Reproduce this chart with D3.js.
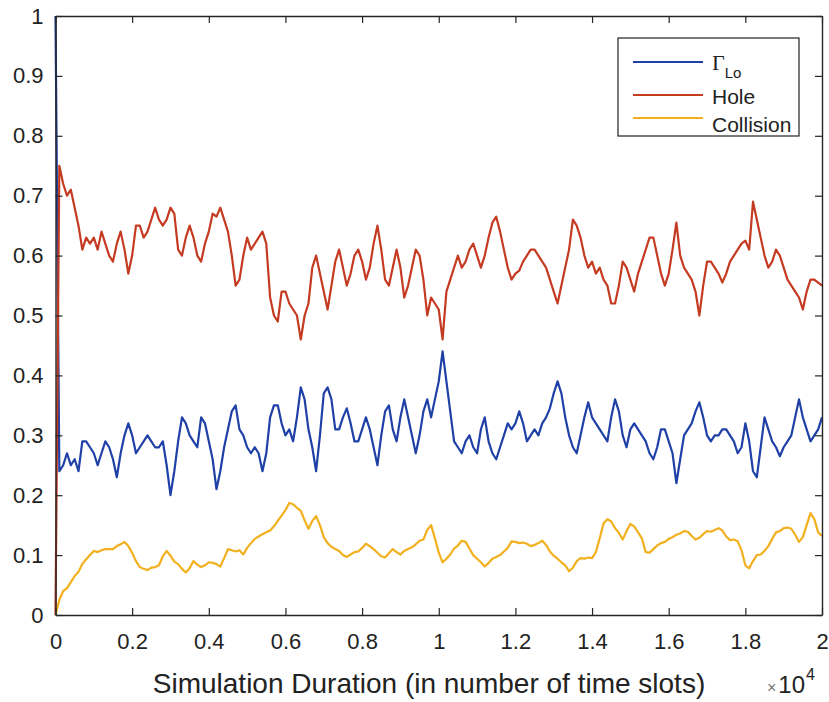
<!DOCTYPE html>
<html><head><meta charset="utf-8">
<script src="https://cdn.jsdelivr.net/npm/d3@7"></script>
<style>body{margin:0;background:#fff}</style>
</head><body>
<svg id="chart" width="829" height="702"></svg>
<script>
// time slot spacing between consecutive samples
const slotStep = 100;

const gammaLo = [
1.0,0.24,0.25,0.27,0.25,0.26,0.24,0.29,0.29,0.28,
0.27,0.25,0.27,0.29,0.28,0.26,0.23,0.27,0.30,0.32,
0.30,0.27,0.28,0.29,0.30,0.29,0.28,0.28,0.29,0.25,
0.20,0.24,0.29,0.33,0.32,0.30,0.29,0.28,0.33,0.32,
0.29,0.26,0.21,0.24,0.28,0.31,0.34,0.35,0.31,0.30,
0.28,0.27,0.28,0.27,0.24,0.27,0.33,0.35,0.35,0.32,
0.30,0.31,0.29,0.33,0.38,0.36,0.31,0.28,0.24,0.30,
0.37,0.38,0.36,0.31,0.31,0.33,0.345,0.32,0.29,0.29,
0.31,0.33,0.31,0.28,0.25,0.30,0.34,0.35,0.31,0.29,
0.33,0.36,0.33,0.30,0.27,0.30,0.34,0.36,0.33,0.36,
0.39,0.44,0.39,0.34,0.29,0.28,0.27,0.29,0.30,0.28,
0.27,0.31,0.33,0.29,0.27,0.26,0.28,0.30,0.32,0.31,
0.32,0.34,0.32,0.29,0.30,0.31,0.30,0.32,0.33,0.345,
0.37,0.39,0.37,0.33,0.30,0.28,0.27,0.30,0.33,0.355,
0.33,0.32,0.31,0.30,0.29,0.33,0.36,0.34,0.30,0.28,
0.31,0.32,0.31,0.30,0.29,0.27,0.26,0.28,0.31,0.31,
0.29,0.27,0.22,0.26,0.30,0.31,0.32,0.34,0.355,0.33,
0.30,0.29,0.30,0.30,0.31,0.31,0.30,0.29,0.27,0.28,
0.32,0.29,0.24,0.23,0.28,0.33,0.31,0.29,0.28,0.265,
0.28,0.29,0.30,0.33,0.36,0.33,0.31,0.29,0.30,0.31,0.33];

const hole = [
0,0.75,0.72,0.70,0.71,0.68,0.65,0.61,0.63,0.62,
0.63,0.61,0.64,0.62,0.60,0.59,0.62,0.64,0.61,0.57,
0.60,0.65,0.65,0.63,0.64,0.66,0.68,0.66,0.65,0.66,
0.68,0.67,0.61,0.60,0.63,0.65,0.63,0.60,0.59,0.62,
0.64,0.67,0.665,0.68,0.66,0.64,0.60,0.55,0.56,0.60,
0.63,0.61,0.62,0.63,0.64,0.62,0.53,0.50,0.49,0.54,
0.54,0.52,0.51,0.50,0.46,0.50,0.52,0.58,0.60,0.57,
0.54,0.51,0.55,0.59,0.61,0.58,0.55,0.57,0.60,0.61,
0.59,0.56,0.58,0.62,0.65,0.61,0.56,0.55,0.58,0.61,
0.58,0.53,0.55,0.58,0.61,0.60,0.56,0.50,0.53,0.52,
0.51,0.46,0.54,0.56,0.58,0.60,0.58,0.59,0.61,0.62,
0.60,0.58,0.60,0.63,0.655,0.665,0.64,0.61,0.58,0.56,
0.57,0.575,0.59,0.60,0.61,0.61,0.60,0.59,0.58,0.56,
0.54,0.52,0.55,0.58,0.61,0.66,0.65,0.63,0.60,0.58,
0.59,0.57,0.58,0.56,0.55,0.52,0.52,0.55,0.59,0.58,
0.56,0.54,0.57,0.59,0.61,0.63,0.63,0.60,0.57,0.55,
0.57,0.61,0.655,0.60,0.58,0.57,0.56,0.54,0.50,0.55,
0.59,0.59,0.58,0.57,0.555,0.57,0.59,0.60,0.61,0.62,
0.625,0.61,0.69,0.66,0.63,0.60,0.58,0.59,0.61,0.60,
0.58,0.56,0.55,0.54,0.53,0.51,0.54,0.56,0.56,0.555,0.55];

const collision = [
0,0.025,0.04,0.045,0.055,0.065,0.072,0.085,0.093,0.10,
0.107,0.105,0.108,0.11,0.11,0.11,0.115,0.118,0.122,0.115,
0.104,0.09,0.08,0.077,0.075,0.079,0.08,0.083,0.098,0.107,
0.099,0.089,0.085,0.077,0.071,0.078,0.09,0.084,0.08,0.083,
0.088,0.087,0.085,0.081,0.095,0.11,0.108,0.106,0.108,0.101,
0.112,0.12,0.127,0.131,0.135,0.138,0.141,0.148,0.157,0.166,
0.175,0.187,0.185,0.179,0.174,0.158,0.144,0.157,0.165,0.15,
0.13,0.12,0.114,0.11,0.107,0.10,0.097,0.101,0.105,0.106,
0.112,0.119,0.115,0.11,0.104,0.098,0.096,0.103,0.11,0.105,
0.101,0.107,0.11,0.113,0.118,0.124,0.126,0.142,0.15,0.128,
0.104,0.088,0.094,0.101,0.111,0.116,0.124,0.122,0.111,0.10,
0.094,0.088,0.081,0.087,0.094,0.097,0.10,0.106,0.112,0.123,
0.122,0.12,0.121,0.119,0.115,0.117,0.12,0.124,0.117,0.106,
0.099,0.094,0.088,0.083,0.073,0.079,0.09,0.095,0.094,0.096,
0.095,0.105,0.128,0.153,0.16,0.156,0.145,0.137,0.126,0.14,
0.152,0.148,0.138,0.128,0.105,0.104,0.11,0.116,0.12,0.122,
0.127,0.13,0.134,0.136,0.14,0.139,0.132,0.126,0.129,0.135,
0.14,0.139,0.142,0.145,0.141,0.131,0.125,0.126,0.123,0.108,
0.083,0.078,0.09,0.10,0.101,0.107,0.115,0.127,0.138,0.14,
0.145,0.146,0.144,0.134,0.122,0.13,0.15,0.17,0.16,0.138,0.132];

const xTicks = [0,2000,4000,6000,8000,10000,12000,14000,16000,18000,20000];
const xTickLabels = ["0","0.2","0.4","0.6","0.8","1","1.2","1.4","1.6","1.8","2"];
const yTicks = [0,0.1,0.2,0.3,0.4,0.5,0.6,0.7,0.8,0.9,1];
const yTickLabels = ["0","0.1","0.2","0.3","0.4","0.5","0.6","0.7","0.8","0.9","1"];
const seriesNames = ["Γ","Hole","Collision"];
const seriesSub = ["Lo","",""];
const seriesColors = ["#1f40a6","#c53b22","#f2b01e"];
const xLabel = "Simulation Duration (in number of time slots)";

const svg = d3.select("#chart");
const font = "'Liberation Sans', Arial, sans-serif";
const L = 55.5, R = 822, T = 16, B = 615;
const x = d3.scaleLinear().domain([0,20000]).range([L,R]);
const y = d3.scaleLinear().domain([0,1]).range([B,T]);

const axisColor = "#262626";

// series
const series = [gammaLo, hole, collision];
const line = d3.line().x((d,i)=>x(i*slotStep)).y(d=>y(d));
series.forEach((s,k)=>{
  svg.append("path").datum(s).attr("d", line)
    .attr("fill","none").attr("stroke",seriesColors[k])
    .attr("stroke-width",2.2).attr("stroke-linejoin","round");
});

// axes
function styleAxis(g){
  g.selectAll("path").attr("stroke",axisColor).attr("stroke-width",1.4);
  g.selectAll("line").attr("stroke",axisColor).attr("stroke-width",1.2);
  g.selectAll("text").attr("fill","#222").style("font-family",font);
}
const xAxis = d3.axisBottom(x).tickValues(xTicks).tickFormat((d,i)=>xTickLabels[i])
  .tickSizeInner(-7).tickSizeOuter(0).tickPadding(18);
svg.append("g").attr("transform",`translate(0,${B})`).call(xAxis).call(styleAxis)
  .selectAll("text").style("font-size","22px");
const yAxis = d3.axisLeft(y).tickValues(yTicks).tickFormat((d,i)=>yTickLabels[i])
  .tickSizeInner(-7).tickSizeOuter(0).tickPadding(12);
svg.append("g").attr("transform",`translate(${L},0)`).call(yAxis).call(styleAxis)
  .selectAll("text").style("font-size","22px");
const xTop = d3.axisTop(x).tickValues(xTicks).tickFormat("").tickSizeInner(-7).tickSizeOuter(0);
svg.append("g").attr("transform",`translate(0,${T})`).call(xTop).call(styleAxis);
const yRight = d3.axisRight(y).tickValues(yTicks).tickFormat("").tickSizeInner(-7).tickSizeOuter(0);
svg.append("g").attr("transform",`translate(${R},0)`).call(yRight).call(styleAxis);

// x label
svg.append("text").attr("x",429).attr("y",693).attr("text-anchor","middle")
  .style("font-family",font).style("font-size","28px").attr("fill","#222").text(xLabel);
// exponent
const ex = svg.append("text").attr("x",767).attr("y",693)
  .style("font-family",font).attr("fill","#222");
ex.append("tspan").style("font-size","16px").attr("fill","#777").text("×");
ex.append("tspan").attr("dx",2).style("font-size","24px").text("10");
ex.append("tspan").attr("dy",-13).attr("dx",1).style("font-size","16px").text("4");

// legend
const lg = svg.append("g");
lg.append("rect").attr("x",618).attr("y",38).attr("width",181).attr("height",98)
  .attr("fill","#fff").attr("stroke","#222").attr("stroke-width",1.2);
const lineYs = [62,95,118];
const textYs = [70,104,132];
seriesNames.forEach((n,k)=>{
  lg.append("line").attr("x1",633).attr("x2",703).attr("y1",lineYs[k]).attr("y2",lineYs[k])
    .attr("stroke",seriesColors[k]).attr("stroke-width",2);
  const t = lg.append("text").attr("x",712).attr("y",textYs[k]).attr("fill","#222");
  if(seriesSub[k]){
    t.append("tspan").style("font-family","'Liberation Serif', serif").style("font-size","22px").text(n);
    t.append("tspan").attr("dy",8).style("font-family",font).style("font-size","15px").text(seriesSub[k]);
  } else {
    t.style("font-family",font).style("font-size","21px").text(n);
  }
});
</script>
</body></html>
